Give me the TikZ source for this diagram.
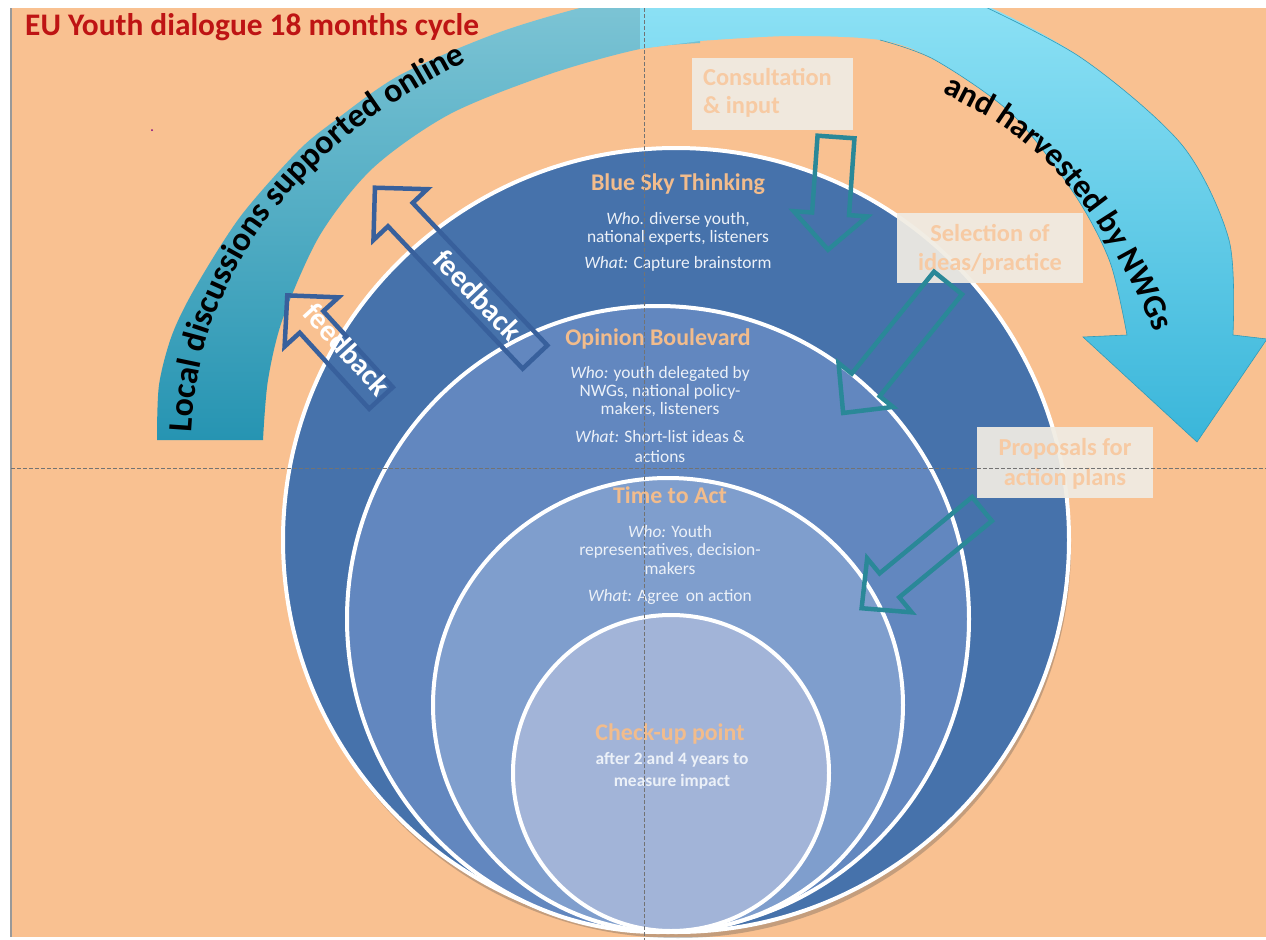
\documentclass[tikz,border=0pt]{standalone}
\usepackage{fontspec}
\setmainfont{Carlito}
\usetikzlibrary{decorations.text}
\definecolor{peach}{RGB}{249,193,145}
\definecolor{cA}{RGB}{70,114,171}
\definecolor{cB}{RGB}{98,135,191}
\definecolor{cC}{RGB}{127,158,205}
\definecolor{cD}{RGB}{162,180,216}
\definecolor{headc}{RGB}{242,188,140}
\definecolor{bodyc}{RGB}{236,241,248}
\definecolor{boxc}{RGB}{240,236,227}
\definecolor{boxt}{RGB}{247,202,163}
\definecolor{tealc}{RGB}{42,136,152}
\definecolor{fbc}{RGB}{56,96,156}
\definecolor{titlec}{RGB}{190,20,20}
\definecolor{lbtop}{RGB}{128,198,214}
\definecolor{lbbot}{RGB}{38,148,178}
\definecolor{ratop}{RGB}{150,230,248}
\definecolor{rabot}{RGB}{58,182,218}
\tikzset{
 heading/.style={font=\fontsize{24}{28}\selectfont\bfseries, text=headc, anchor=base, inner sep=0},
 body/.style={font=\fontsize{17.5}{20}\selectfont, text=bodyc, anchor=base, inner sep=0},
 bodyb/.style={font=\fontsize{17.5}{20}\selectfont\bfseries, text=bodyc, anchor=base, inner sep=0},
 boxsty/.style={fill=boxc, fill opacity=0.93, draw=none, inner sep=0},
 boxtext/.style={font=\fontsize{24.5}{28}\selectfont\bfseries, text=boxt, anchor=base, inner sep=0},
 tealarrow/.style={draw=tealc, line width=4.5bp},
 fbarrow/.style={draw=fbc, line width=4.5bp},
 fbtext/.style={font=\fontsize{30}{30}\selectfont\bfseries, text=white, inner sep=0},
 ring/.style={draw=white, line width=4bp},
 guide/.style={draw=black!55, line width=0.9bp, dash pattern=on 4bp off 2bp},
}
% #1 style, #2 tail point, #3 angle, #4 length, #5 shaft width, #6 head width, #7 head length
\newcommand\hollowarrow[7]{%
 \draw[#1, shift={#2}, rotate=#3] (0,{#5/2}) -- ({#4-#7},{#5/2}) -- ({#4-#7},{#6/2}) -- (#4,0)
 -- ({#4-#7},{-#6/2}) -- ({#4-#7},{-#5/2}) -- (0,{-#5/2}) -- cycle;}
\begin{document}
\begin{tikzpicture}[x=1bp,y=-1bp]
\useasboundingbox (0,0) rectangle (1266,940);
\fill[white] (0,0) rectangle (1266,940);
\fill[peach] (11,8) rectangle (1266,937);
\draw[black!40, line width=1.5bp] (11,8) -- (11,937);
\fill[violet] (152,130) circle [radius=1];
\begin{scope}
\clip (11,8) rectangle (1266,937);
% left band
\shade[top color=lbtop, bottom color=lbbot]
 plot[smooth] coordinates {(157,440) (159,385) (172,335) (195,288) (240,217) (297,152) (333,122) (400,75) (500,32) (600,3) (700,-15)}
 -- plot[smooth] coordinates {(700,43) (640,49) (550,74) (450,114) (373,168) (320,235) (283,318) (268,380) (263,440)} -- cycle;
% right curved arrow
\shade[top color=ratop, bottom color=rabot]
 (640,49) -- plot[smooth] coordinates {(700,41) (790,36) (880,40) (935,60) (1013,115) (1075,195) (1110,262) (1127,335)}
 -- (1083,337) -- (1197,442) -- (1267,339) --
 plot[smooth] coordinates {(1233,335) (1229,240) (1182,145) (1080,57) (960,-5) (800,-45) (640,-50)} -- cycle;
\draw[rabot!85!black, line width=0.6bp]
 plot[smooth] coordinates {(880,40) (935,60) (1013,115) (1075,195) (1110,262) (1127,335)}
 -- (1083,337) -- (1197,442) -- (1267,339) --
 plot[smooth] coordinates {(1233,335) (1229,240) (1182,145) (1080,57) (960,-5)};
\end{scope}
% arc texts
\path[decorate, decoration={text along path, text align=left,
 text={|\fontsize{34}{34}\selectfont\bfseries|Local discussions supported online}}]
 plot[smooth] coordinates {(192,432) (196,387) (207,337) (227,287) (258,232) (303,178) (358,128) (418,88) (480,55) (550,30) (640,10)};
\path[decorate, decoration={text along path, text align=left,
 text={|\fontsize{33}{33}\selectfont\bfseries|and harvested by NWGs}}]
 plot[smooth] coordinates {(942,93) (1000,124) (1050,165) (1095,220) (1130,280) (1160,345) (1180,420)};
% title
\node[anchor=base west, inner sep=0, text=titlec, font=\fontsize{31.5}{34}\selectfont\bfseries] (title) at (25,35) {EU Youth dialogue 18 months cycle};
% circles
\fill[black!70, opacity=0.3] (678,546) ellipse [x radius=393, y radius=392];
\filldraw[fill=cA, ring] (676,540) ellipse [x radius=393, y radius=392];
\filldraw[fill=cB, ring] (658,619) ellipse [x radius=311, y radius=313];
\filldraw[fill=cC, ring] (668,705) ellipse [x radius=235, y radius=227];
\filldraw[fill=cD, ring] (671,773) ellipse [x radius=158, y radius=158];
% circle texts
\node[heading] (bs) at (678,190) {Blue Sky Thinking};
\node[body] (bs1) at (678,224) {\textit{Who.} diverse youth,};
\node[body] (bs2) at (678,242) {national experts, listeners};
\node[body] (bs3) at (678,268) {\textit{What:} Capture brainstorm};
\node[heading] (ob) at (658,345) {Opinion Boulevard};
\node[body] (ob1) at (660,378) {\textit{Who:} youth delegated by};
\node[body] (ob2) at (660,396) {NWGs, national policy-};
\node[body] (ob3) at (660,414) {makers, listeners};
\node[body] (ob4) at (660,442) {\textit{What:} Short-list ideas \&};
\node[body] (ob5) at (660,462) {actions};
\node[heading] (ta) at (670,503) {Time to Act};
\node[body] (ta1) at (670,537) {\textit{Who:} Youth};
\node[body] (ta2) at (670,555) {representatives, decision-};
\node[body] (ta3) at (670,574) {makers};
\node[body] (ta4) at (670,601) {\textit{What:} Agree\, on action};
\node[heading] (cu) at (670,740) {Check-up point};
\node[bodyb] (cu1) at (672,764) {after 2 and 4 years to};
\node[bodyb] (cu2) at (672,786) {measure impact};
% feedback arrows
\hollowarrow{fbarrow}{(535,357)}{133.4}{233}{34}{74}{37}
\hollowarrow{fbarrow}{(381,398)}{132.4}{139}{32}{73}{36}
\node[fbtext, rotate=-46.6] (fb1) at (478,295) {feedback};
\node[fbtext, rotate=-47.6] (fb2) at (347,349) {feedback};
% boxes
\node[boxsty, minimum width=161bp, minimum height=72bp] (consbox) at (772.5,94) {};
\node[boxtext, anchor=base west] (cons1) at (703,85) {Consultation};
\node[boxtext, anchor=base west] (cons2) at (703,113) {\& input};
\node[boxsty, minimum width=186bp, minimum height=70bp] (selbox) at (990,248) {};
\node[boxtext] (sel1) at (990,241) {Selection of};
\node[boxtext] (sel2) at (990,270) {ideas/practice};
\node[boxsty, minimum width=176bp, minimum height=71bp] (propbox) at (1065,462.5) {};
\node[boxtext] (prop1) at (1065,455) {Proposals for};
\node[boxtext] (prop2) at (1065,485) {action plans};
% teal arrows
\hollowarrow{tealarrow}{(836,137)}{-94.05}{113}{37}{74}{36}
\hollowarrow{tealarrow}{(948,283)}{-128.9}{167}{36}{70}{36}
\hollowarrow{tealarrow}{(982,509)}{-140.5}{156}{31}{70}{36}
% guides
\draw[guide] (644,8) -- (644,940);
\draw[guide] (11,468) -- (1266,468);
\end{tikzpicture}
\end{document}
